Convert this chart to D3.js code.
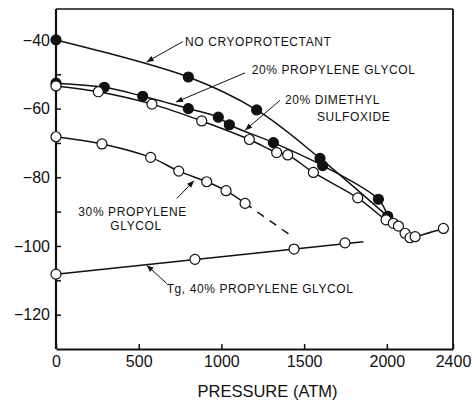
<!DOCTYPE html>
<html>
<head>
<meta charset="utf-8">
<script src="https://cdn.jsdelivr.net/npm/d3@7"></script>
<style>
  html, body { margin: 0; padding: 0; background: #fff; }
  svg { display: block; }
  text { font-family: "Liberation Sans", Arial, Helvetica, sans-serif; fill: #111; }
</style>
</head>
<body>
<svg id="chart" width="475" height="405"></svg>
<script>
// Pressure (atm) / temperature (°C) readings for each solution
const noCryoP = [0, 800, 1213, 1596, 2005];
const noCryoT = [-40, -50.8, -60.4, -74.5, -91.4];

const pg20P = [0, 292, 524, 800, 981, 1048, 1314, 1612, 1949, 2005];
const pg20T = [-52.6, -53.8, -56.4, -60.0, -62.5, -64.7, -69.9, -76.6, -86.4, -91.4];

const dmsoP = [0, 256, 580, 881, 1169, 1334, 1401, 1556, 1824, 1995, 2039, 2070, 2110, 2140, 2171, 2342];
const dmsoT = [-53.4, -55.1, -58.7, -63.6, -69.0, -72.8, -73.5, -78.6, -86.0, -92.4, -93.4, -94.2, -96.3, -97.6, -97.3, -94.9];

const pg30P = [0, 278, 572, 742, 911, 1028, 1143];
const pg30T = [-68.2, -70.3, -74.2, -78.2, -81.3, -83.9, -87.6];
// extrapolated continuation (dashed)
const pg30ExtP = [1143, 1415];
const pg30ExtT = [-87.6, -96.8];

const tgP = [0, 840, 1439, 1747];
const tgT = [-108.2, -103.9, -100.9, -99.1];
const tgLineP = [0, 1858];
const tgLineT = [-108.2, -98.8];

const xTicks = [0, 500, 1000, 1500, 2000, 2400];
const yTicks = [-120, -110, -100, -90, -80, -70, -60, -50, -40];
const yLabelled = [-120, -100, -80, -60, -40];

// Curve labels: text lines (with indent in px for follow-on lines), first baseline,
// line gap, start of the leader and its arrow tip (data units)
const labelLines = [
  { lines: ["NO CRYOPROTECTANT"], indent: [0], gap: 0, at: [780, -41.8], from: [766, -40.5], to: [548, -46.4] },
  { lines: ["20% PROPYLENE GLYCOL"], indent: [0], gap: 0, at: [1183, -49.9], from: [1143, -49.6], to: [725, -58.1] },
  { lines: ["20% DIMETHYL", "SULFOXIDE"], indent: [0, 32], gap: 17, at: [1384, -58.7], from: [1354, -57.6], to: [1143, -66.3] },
  { lines: ["30% PROPYLENE", "GLYCOL"], indent: [0, 32], gap: 13.5, at: [135, -91.3], from: [730, -86.2], to: [834, -81.0] },
  { lines: ["Tg, 40% PROPYLENE GLYCOL"], indent: [0], gap: 0, at: [669, -113.6], from: [669, -110.9], to: [548, -105.6] }
];

const zip = (a, b) => a.map((v, i) => [v, b[i]]);

const svg = d3.select("#chart");
const x = d3.scaleLinear().domain([0, 2400]).range([56, 453]);
const y = d3.scaleLinear().domain([-130, -31]).range([349, 9]);

// arrowhead marker
svg.append("defs").append("marker")
  .attr("id", "arrow")
  .attr("viewBox", "0 0 10 10")
  .attr("refX", 10).attr("refY", 5)
  .attr("markerWidth", 10).attr("markerHeight", 7)
  .attr("markerUnits", "userSpaceOnUse")
  .attr("orient", "auto")
  .append("path").attr("d", "M0,1 L10,5 L0,9 Z").attr("fill", "#111");

// frame
const frame = svg.append("g").attr("stroke", "#111").attr("fill", "none");
frame.append("line").attr("x1", x(0)).attr("x2", x(2400)).attr("y1", y(-31)).attr("y2", y(-31)).attr("stroke-width", 1.5);
frame.append("line").attr("x1", x(2400)).attr("x2", x(2400)).attr("y1", y(-31)).attr("y2", y(-130)).attr("stroke-width", 1.8);

// axes
const xAxis = d3.axisBottom(x).tickValues(xTicks).tickFormat(d3.format("d"))
  .tickSizeInner(-5).tickSizeOuter(0).tickPadding(7);
const gx = svg.append("g").attr("transform", `translate(0,${y(-130)})`).call(xAxis);
gx.select(".domain").attr("stroke-width", 2.2).attr("stroke", "#111");
gx.selectAll(".tick line").attr("stroke-width", 1.5).attr("stroke", "#111");
gx.selectAll(".tick text").attr("font-size", 16).attr("font-family", null);

const yAxis = d3.axisLeft(y).tickValues(yTicks)
  .tickFormat(d => yLabelled.includes(d) ? d3.format("d")(d) : "")
  .tickSizeInner(-5).tickSizeOuter(0).tickPadding(6);
const gy = svg.append("g").attr("transform", `translate(${x(0)},0)`).call(yAxis);
gy.select(".domain").attr("stroke-width", 2.2).attr("stroke", "#111")
  .attr("d", `M0,${y(-130)}V${y(-31)}`);
gy.selectAll(".tick line").attr("stroke-width", 1.5).attr("stroke", "#111");
gy.selectAll(".tick text").attr("font-size", 16).attr("font-family", null);

svg.append("text")
  .attr("x", (x(0) + x(2400)) / 2 + 13).attr("y", 397)
  .attr("text-anchor", "middle").attr("font-size", 17)
  .attr("textLength", 140).attr("lengthAdjust", "spacingAndGlyphs")
  .text("PRESSURE (ATM)");

// curves
const smooth = d3.line().x(d => x(d[0])).y(d => y(d[1])).curve(d3.curveCatmullRom.alpha(0.5));
const straight = d3.line().x(d => x(d[0])).y(d => y(d[1]));
const curves = svg.append("g").attr("fill", "none").attr("stroke", "#111").attr("stroke-width", 1.5);
curves.append("path").attr("d", smooth(zip(noCryoP, noCryoT)));
curves.append("path").attr("d", smooth(zip(pg20P, pg20T)));
curves.append("path").attr("d", smooth(zip(dmsoP, dmsoT)));
curves.append("path").attr("d", smooth(zip(pg30P, pg30T)));
curves.append("path").attr("d", straight(zip(pg30ExtP, pg30ExtT))).attr("stroke-dasharray", "8,7");
curves.append("path").attr("d", straight(zip(tgLineP, tgLineT)));

// points
const r = 5;
const dots = svg.append("g").attr("stroke", "#111").attr("stroke-width", 1.2);
const drawDots = (ps, ts, filled) => dots.selectAll(null).data(zip(ps, ts)).join("circle")
  .attr("cx", d => x(d[0])).attr("cy", d => y(d[1])).attr("r", r)
  .attr("fill", filled ? "#111" : "#fff");
drawDots(noCryoP, noCryoT, true);
drawDots(pg20P, pg20T, true);
drawDots(dmsoP, dmsoT, false);
drawDots(pg30P, pg30T, false);
drawDots(tgP, tgT, false);

// labels with leader arrows
const ann = svg.append("g");
labelLines.forEach(l => {
  ann.append("line")
    .attr("x1", x(l.from[0])).attr("y1", y(l.from[1]))
    .attr("x2", x(l.to[0])).attr("y2", y(l.to[1]))
    .attr("stroke", "#111").attr("stroke-width", 1)
    .attr("marker-end", "url(#arrow)");
  const t = ann.append("text")
    .attr("x", x(l.at[0])).attr("y", y(l.at[1]))
    .attr("font-size", 12).attr("letter-spacing", 0.6);
  l.lines.forEach((s, i) => t.append("tspan")
    .attr("x", x(l.at[0]) + l.indent[i]).attr("dy", i === 0 ? 0 : l.gap).text(s));
});
</script>
</body>
</html>
